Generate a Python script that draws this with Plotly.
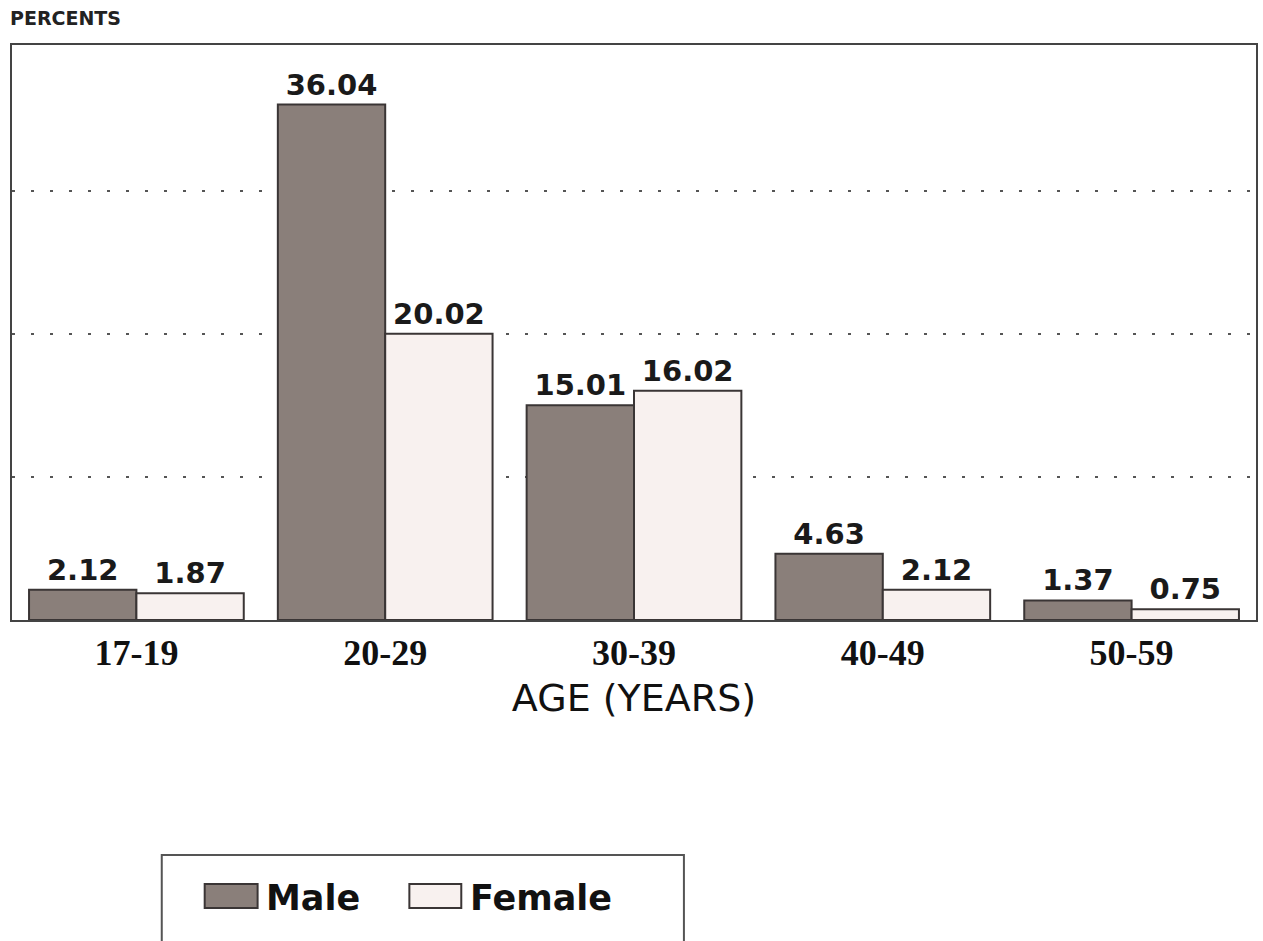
import plotly.graph_objects as go

age_groups = ["17-19", "20-29", "30-39", "40-49", "50-59"]
male_pct = [2.12, 36.04, 15.01, 4.63, 1.37]
female_pct = [1.87, 20.02, 16.02, 2.12, 0.75]
male_labels = ["2.12", "36.04", "15.01", "4.63", "1.37"]
female_labels = ["1.87", "20.02", "16.02", "2.12", "0.75"]
grid_values = [10, 20, 30]

W, H = 1263, 941
L, R, T, B = 12, 5, 45, 321
PW = W - L - R
PH = H - T - B

def px(x):
    return (x - L) / PW

def py(y):
    return (H - B - y) / PH

MALE_COLOR = "#8a7f7a"
FEMALE_COLOR = "#f8f1ef"
EDGE = "#3a3535"
VAL_FONT = dict(family="DejaVu Sans", size=29, color="#1a1a1a", weight="bold")

fig = go.Figure()
fig.add_trace(go.Bar(
    x=age_groups, y=male_pct, name="Male",
    marker=dict(color=MALE_COLOR, line=dict(color=EDGE, width=2)),
    text=male_labels, textposition="outside", textfont=VAL_FONT,
    cliponaxis=False, constraintext="none",
))
fig.add_trace(go.Bar(
    x=age_groups, y=female_pct, name="Female",
    marker=dict(color=FEMALE_COLOR, line=dict(color=EDGE, width=2)),
    text=female_labels, textposition="outside", textfont=VAL_FONT,
    cliponaxis=False, constraintext="none",
))

fig.update_layout(
    width=W, height=H,
    margin=dict(l=L, r=R, t=T, b=B),
    paper_bgcolor="white", plot_bgcolor="white",
    barmode="group", bargap=0.137, bargroupgap=0,
    showlegend=False,
)
fig.update_xaxes(
    showline=True, linecolor="#444", linewidth=2, mirror=True,
    ticks="", showgrid=False,
    tickfont=dict(family="Liberation Serif", size=36, color="#111", weight="bold"),
    title=dict(text="AGE (YEARS)", font=dict(family="DejaVu Sans", size=38, color="#111"), standoff=12),
)
fig.update_yaxes(
    range=[0, 40.2], showline=True, linecolor="#444", linewidth=2, mirror=True,
    showticklabels=False, ticks="", tickvals=grid_values,
    showgrid=True, gridcolor="#555", gridwidth=2, griddash="3px,16px",
    zeroline=False,
)

# "PERCENTS" label
fig.add_annotation(
    x=px(8), y=py(18), xref="paper", yref="paper", xanchor="left", yanchor="middle",
    text="PERCENTS", showarrow=False,
    font=dict(family="DejaVu Sans", size=19, color="#222", weight="bold"),
)

# Legend box
fig.add_shape(type="rect", xref="paper", yref="paper",
              x0=px(162), x1=px(685), y0=py(855), y1=py(960),
              line=dict(color="#555", width=2), fillcolor="white", layer="above")
fig.add_shape(type="rect", xref="paper", yref="paper",
              x0=px(205), x1=px(258), y0=py(884), y1=py(908),
              line=dict(color=EDGE, width=2), fillcolor=MALE_COLOR)
fig.add_annotation(x=px(264), y=py(898), xref="paper", yref="paper",
                   xanchor="left", yanchor="middle", text="Male", showarrow=False,
                   font=dict(family="DejaVu Sans", size=35, color="#111", weight="bold"))
fig.add_shape(type="rect", xref="paper", yref="paper",
              x0=px(410), x1=px(462), y0=py(884), y1=py(908),
              line=dict(color=EDGE, width=2), fillcolor=FEMALE_COLOR)
fig.add_annotation(x=px(469), y=py(898), xref="paper", yref="paper",
                   xanchor="left", yanchor="middle", text="Female", showarrow=False,
                   font=dict(family="DejaVu Sans", size=35, color="#111", weight="bold"))

fig.write_html("out.html",
               config={"displayModeBar": False},
               post_script="document.body.style.margin='0';document.body.style.overflow='hidden';")
